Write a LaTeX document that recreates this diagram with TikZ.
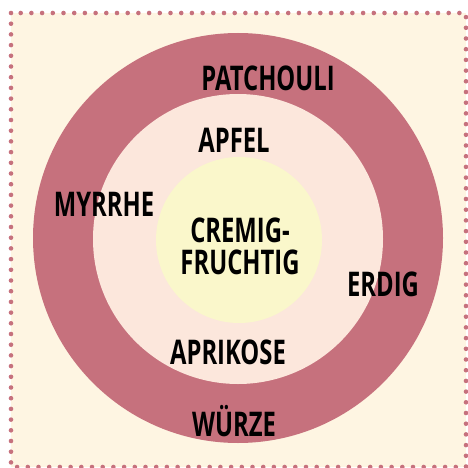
\documentclass[tikz,border=0pt]{standalone}
\usepackage{fontspec}
\newfontfamily\duftfont[FakeStretch=0.70]{Open Sans}
\usetikzlibrary{positioning}
\definecolor{hinter}{HTML}{FEF5E2}
\definecolor{mauve}{HTML}{C6717D}
\definecolor{pfirsich}{HTML}{FCE7DC}
\definecolor{zitrone}{HTML}{FAF7CB}
\tikzset{
  rahmen/.style={draw=mauve,line width=4.6pt,line cap=round,dash pattern=on 0pt off 10.7pt},
  wort/.style={font=\duftfont\bfseries\fontsize{34}{32}\selectfont,inner sep=0pt,align=center},
}

\begin{document}
\begin{tikzpicture}[x=1pt,y=-1pt]
  \useasboundingbox (0,0) rectangle (467,468);
  \fill[hinter] (11,13) rectangle (466,467);
  \draw[rahmen] (11,13) rectangle (466,467);
  % drei Ringe
  \fill[mauve] (238,238) circle (205);
  \fill[pfirsich] (238,239) circle (145);
  \fill[zitrone] (239,240) circle (83);
  % Duftnoten
  \node[wort] (mitte) at (240,246) {CREMIG-\\FRUCHTIG};
  \node[wort] (patchouli) at (268,78) {PATCHOULI};
  \node[wort] (apfel) at (234,140) {APFEL};
  \node[wort] (aprikose) at (228,352) {APRIKOSE};
  \node[wort] (wuerze) at (234,421) {WÜRZE};
  \node[wort] (myrrhe) at (104,204) {MYRRHE};
  \node[wort] (erdig) at (383,284) {ERDIG};
\end{tikzpicture}
\end{document}
